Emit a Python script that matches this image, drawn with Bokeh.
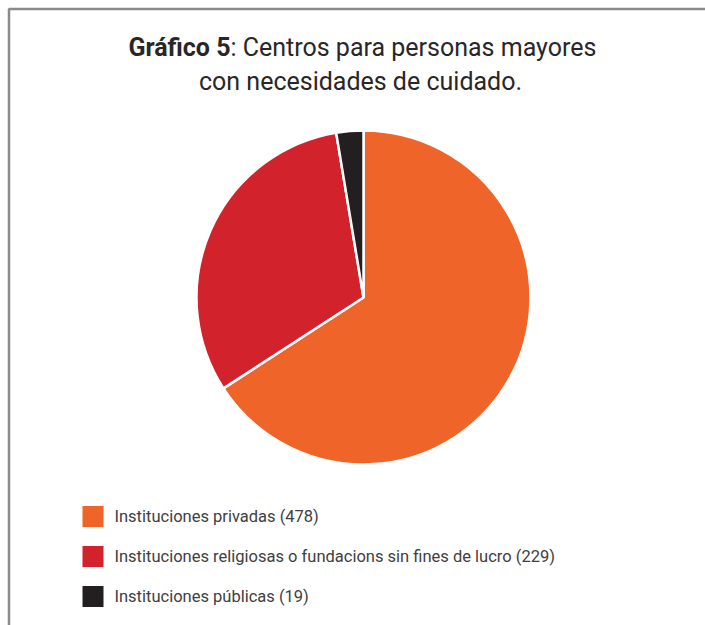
import math
from bokeh.plotting import figure
from bokeh.models import Range1d, ColumnDataSource
from bokeh.core.properties import value
from bokeh.embed import file_html
from bokeh.resources import INLINE

# ---- data ----
categories = ["Instituciones privadas", "Instituciones religiosas o fundacions sin fines de lucro", "Instituciones públicas"]
counts = [478, 229, 19]
colors = ["#EE6429", "#D2232C", "#231F20"]
title_bold = "Gráfico 5"
title_rest = ": Centros para personas mayores"
title_line2 = "con necesidades de cuidado."

W, H = 705, 625
FONT = "Roboto"

p = figure(width=W, height=H, output_backend="svg", toolbar_location=None,
           x_range=Range1d(0, W), y_range=Range1d(0, H),
           min_border=0, outline_line_color=None)
p.axis.visible = False
p.grid.visible = False
p.background_fill_color = "white"
p.border_fill_color = "white"

def Y(y):
    return H - y

# frame (top and left gray lines)
p.line([8.5, 8.5, W + 5], [Y(H + 5), Y(8.5), Y(8.5)], line_color="#8a8a8a", line_width=2.5)

# pie
total = sum(counts)
starts, ends = [], []
cum = 0.0
for c in counts:
    starts.append(math.pi / 2 - 2 * math.pi * cum / total)
    cum += c
    ends.append(math.pi / 2 - 2 * math.pi * cum / total)
src = ColumnDataSource(dict(start=starts, end=ends, color=colors))
p.wedge(x=363, y=Y(297), radius=167, start_angle="start", end_angle="end",
        direction="clock", fill_color="color", line_color="white", line_width=2.5, source=src)

# title
p.text(x=[230], y=[Y(47)], text=[title_bold], text_font=value(FONT), text_font_size="25px",
       text_font_style="bold", text_color="#2a2627", text_align="right", text_baseline="alphabetic")
p.text(x=[230], y=[Y(47)], text=[title_rest], text_font=value(FONT), text_font_size="25px",
       text_color="#2a2627", text_align="left", text_baseline="alphabetic")
p.text(x=[360], y=[Y(81)], text=[title_line2], text_font=value(FONT), text_font_size="25px",
       text_color="#2a2627", text_align="center", text_baseline="alphabetic")

# legend
ly = [516, 556, 596]
labels = [f"{c} ({n})" for c, n in zip(categories, counts)]
p.rect(x=[92.5] * 3, y=[Y(v) for v in ly], width=21, height=21, fill_color=colors, line_color=None)
p.text(x=[114] * 3, y=[Y(v) for v in ly], text=labels, text_font=value(FONT), text_font_size="16.5px",
       text_color="#404040", text_align="left", text_baseline="middle")

open("out.html", "w").write(file_html(p, INLINE))
